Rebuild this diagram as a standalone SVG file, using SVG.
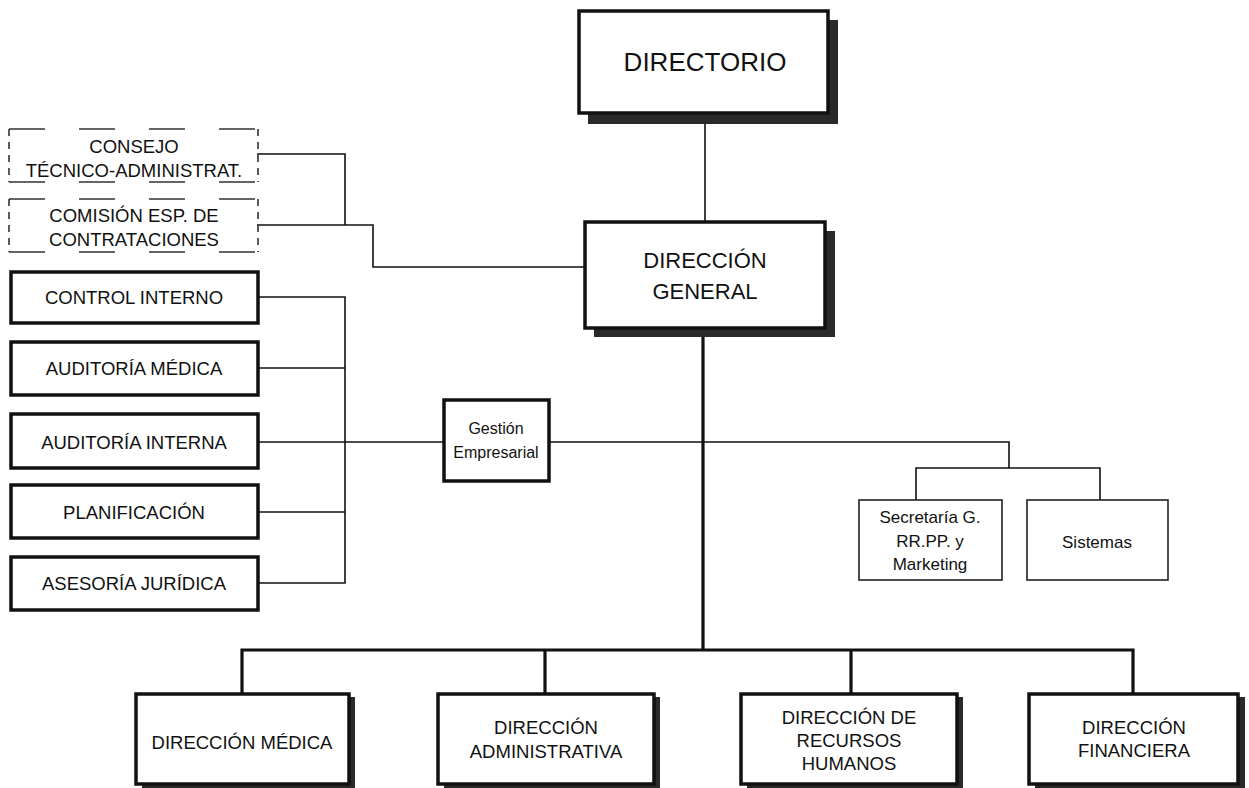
<svg xmlns="http://www.w3.org/2000/svg" width="1249" height="788" viewBox="0 0 1249 788">
<style>
text{font-family:"Liberation Sans",Arial,sans-serif;fill:#111;text-anchor:middle}
.t18{font-size:18.5px}
.t17{font-size:17px}
.t16{font-size:16px}
.box{fill:#fff;stroke:#111;stroke-width:3.5}
.thin{fill:#fff;stroke:#222;stroke-width:1.6}
.shadow{fill:#2a2a2a}
.dh{stroke:#333;stroke-width:1.6;fill:none;stroke-dasharray:36 34}
.dv{stroke:#333;stroke-width:1.6;fill:none;stroke-dasharray:7 6}
.c{stroke:#111;stroke-width:1.6;fill:none}
.ct{stroke:#111;stroke-width:3.2;fill:none}
</style>
<rect width="1249" height="788" fill="#fff"/>
<g id="connectors">
<polyline class="c" points="257,154 345,154 345,225"/>
<polyline class="c" points="257,225 373,225 373,267 585,267"/>
<line class="c" x1="705" y1="120" x2="705" y2="222"/>
<polyline class="c" points="258,297 345,297 345,583 258,583"/>
<line class="c" x1="258" y1="368" x2="345" y2="368"/>
<line class="c" x1="258" y1="442" x2="443" y2="442"/>
<line class="c" x1="258" y1="512" x2="345" y2="512"/>
<polyline class="c" points="549,442 1009,442 1009,468"/>
<polyline class="c" points="916,500 916,468 1100,468 1100,500"/>
<line class="ct" x1="703" y1="330" x2="703" y2="650"/>
<polyline class="ct" points="242,693 242,650 1133,650 1133,693"/>
<line class="ct" x1="545" y1="650" x2="545" y2="693"/>
<line class="ct" x1="851" y1="650" x2="851" y2="693"/>
</g>
<g id="directorio">
<rect class="shadow" x="588" y="20" width="250" height="104"/>
<rect class="box" x="579" y="11" width="249" height="102"/>
<text class="t26" x="705" y="71" style="font-size:26px">DIRECTORIO</text>
</g>
<g id="direccion-general">
<rect class="shadow" x="594" y="231" width="241" height="106"/>
<rect class="box" x="585" y="222" width="240" height="106"/>
<text x="705" y="268" style="font-size:22px">DIRECCIÓN</text>
<text x="705" y="299" style="font-size:22px">GENERAL</text>
</g>
<g id="consejo">
<line class="dh" x1="9" y1="129" x2="258" y2="129"/>
<line class="dh" x1="9" y1="182" x2="258" y2="182"/>
<line class="dv" x1="9" y1="129" x2="9" y2="182"/>
<line class="dv" x1="258" y1="129" x2="258" y2="182"/>
<text class="t18" x="134" y="153">CONSEJO</text>
<text class="t18" x="134" y="177">TÉCNICO-ADMINISTRAT.</text>
</g>
<g id="comision">
<line class="dh" x1="9" y1="199" x2="258" y2="199"/>
<line class="dh" x1="9" y1="252" x2="258" y2="252"/>
<line class="dv" x1="9" y1="199" x2="9" y2="252"/>
<line class="dv" x1="258" y1="199" x2="258" y2="252"/>
<text class="t18" x="134" y="222">COMISIÓN ESP. DE</text>
<text class="t18" x="134" y="246">CONTRATACIONES</text>
</g>
<g id="control-interno">
<rect class="box" x="11" y="272" width="247" height="51"/>
<text class="t18" x="134" y="304">CONTROL INTERNO</text>
</g>
<g id="auditoria-medica">
<rect class="box" x="11" y="342" width="247" height="53"/>
<text class="t18" x="134" y="375">AUDITORÍA MÉDICA</text>
</g>
<g id="auditoria-interna">
<rect class="box" x="11" y="414" width="247" height="54"/>
<text class="t18" x="134" y="449">AUDITORÍA INTERNA</text>
</g>
<g id="planificacion">
<rect class="box" x="11" y="485" width="247" height="53"/>
<text class="t18" x="134" y="519">PLANIFICACIÓN</text>
</g>
<g id="asesoria-juridica">
<rect class="box" x="11" y="557" width="247" height="53"/>
<text class="t18" x="134" y="590">ASESORÍA JURÍDICA</text>
</g>
<g id="gestion-empresarial">
<rect class="box" x="444" y="400" width="105" height="81"/>
<text class="t16" x="496" y="434">Gestión</text>
<text class="t16" x="496" y="458">Empresarial</text>
</g>
<g id="secretaria">
<rect class="thin" x="859" y="500" width="143" height="80"/>
<text class="t17" x="930" y="523">Secretaría G.</text>
<text class="t17" x="930" y="547">RR.PP. y</text>
<text class="t17" x="930" y="570">Marketing</text>
</g>
<g id="sistemas">
<rect class="thin" x="1027" y="500" width="141" height="80"/>
<text class="t17" x="1097" y="548">Sistemas</text>
</g>
<g id="direccion-medica">
<rect class="shadow" x="142" y="697" width="213" height="91"/>
<rect class="box" x="136" y="694" width="213" height="90"/>
<text class="t18" x="242" y="749">DIRECCIÓN MÉDICA</text>
</g>
<g id="direccion-administrativa">
<rect class="shadow" x="444" y="697" width="216" height="91"/>
<rect class="box" x="438" y="694" width="216" height="90"/>
<text class="t18" x="546" y="734">DIRECCIÓN</text>
<text class="t18" x="546" y="758">ADMINISTRATIVA</text>
</g>
<g id="direccion-rrhh">
<rect class="shadow" x="747" y="697" width="216" height="91"/>
<rect class="box" x="741" y="694" width="216" height="90"/>
<text class="t18" x="849" y="724">DIRECCIÓN DE</text>
<text class="t18" x="849" y="747">RECURSOS</text>
<text class="t18" x="849" y="770">HUMANOS</text>
</g>
<g id="direccion-financiera">
<rect class="shadow" x="1035" y="697" width="210" height="91"/>
<rect class="box" x="1029" y="694" width="209" height="90"/>
<text class="t18" x="1134" y="734">DIRECCIÓN</text>
<text class="t18" x="1134" y="757">FINANCIERA</text>
</g>
</svg>
